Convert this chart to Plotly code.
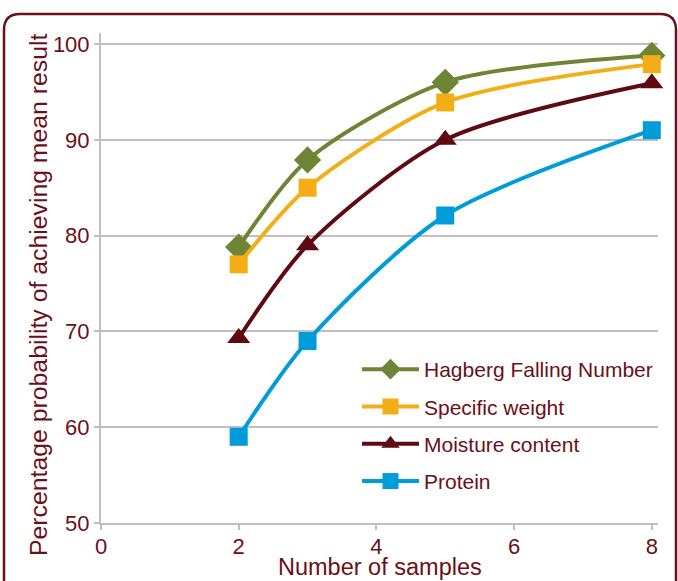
import plotly.graph_objects as go

samples = [2, 3, 5, 8]
hagberg = [78.8, 87.9, 96.0, 98.8]
specific_weight = [77.0, 85.0, 93.9, 97.9]
moisture = [69.3, 79.0, 90.0, 95.9]
protein = [59.0, 69.0, 82.1, 91.0]

series = [
    ("Hagberg Falling Number", hagberg, "#6E8535", "diamond", 21),
    ("Specific weight", specific_weight, "#F2AE14", "square", 18),
    ("Moisture content", moisture, "#5E0A10", "triangle-up", 20),
    ("Protein", protein, "#009CDA", "square", 18),
]

TXT = "#6B1018"
GRID = "#BFBFC2"
FONT = "Liberation Sans, Arial, sans-serif"

fig = go.Figure()
for i, (name, vals, color, sym, size) in enumerate(series):
    fig.add_trace(go.Scatter(
        x=samples, y=vals, name=name, mode="lines+markers",
        line=dict(color=color, width=4, shape="spline", smoothing=0.8),
        marker=dict(color=color, symbol=sym, size=size),
        legendgroup=f"g{i}", cliponaxis=False,
    ))

W, H = 678, 581
L, R, T, B = 101, 20, 33, 58
pw, ph = W - L - R, H - T - B

def px(xp):
    return (xp - L) / pw

def py(yp):
    return (H - B - yp) / ph

# rounded border
r = 16
x0, x1, y0, y1 = 4, 676, 14, 590
path = (f"M {px(x0)} {py(y1)} L {px(x0)} {py(y0 + r)} "
        f"Q {px(x0)} {py(y0)} {px(x0 + r)} {py(y0)} "
        f"L {px(x1 - r)} {py(y0)} "
        f"Q {px(x1)} {py(y0)} {px(x1)} {py(y0 + r)} "
        f"L {px(x1)} {py(y1)}")

fig.update_layout(
    width=W, height=H,
    margin=dict(l=L, r=R, t=T, b=B),
    paper_bgcolor="white", plot_bgcolor="white",
    font=dict(family=FONT, color=TXT, size=22),
    shapes=[dict(type="path", path=path, xref="paper", yref="paper",
                 line=dict(color="#6B1018", width=2.5), layer="above")],
    annotations=[
        dict(text="Percentage probability of achieving mean result",
             x=px(38), y=py(295), xref="paper", yref="paper",
             xanchor="center", yanchor="middle", textangle=-90,
             showarrow=False, font=dict(size=24.8, color=TXT, family=FONT)),
        dict(text="Number of samples",
             x=px(380), y=py(567), xref="paper", yref="paper",
             xanchor="center", yanchor="middle",
             showarrow=False, font=dict(size=23.5, color=TXT, family=FONT)),
    ],
    legend=dict(
        x=px(357), y=py(349), xanchor="left", yanchor="top",
        font=dict(size=21, color=TXT, family=FONT),
        bgcolor="rgba(0,0,0,0)", traceorder="grouped", tracegroupgap=7,
        itemwidth=57,
    ),
    xaxis=dict(
        range=[0, 8.09], tickvals=[0, 2, 4, 6, 8], showgrid=False,
        showline=True, linecolor=GRID, linewidth=2,
        ticks="outside", ticklen=5, tickwidth=2, tickcolor=GRID,
        tickfont=dict(size=22, color=TXT), automargin=False,
        ticklabelstandoff=-2, zeroline=False,
    ),
    yaxis=dict(
        range=[50, 101.15], tickvals=[50, 60, 70, 80, 90, 100],
        showgrid=True, gridcolor=GRID, gridwidth=2,
        showline=True, linecolor=GRID, linewidth=2,
        ticks="outside", ticklen=5, tickwidth=2, tickcolor=GRID,
        tickfont=dict(size=22, color=TXT), automargin=False,
        zeroline=False,
    ),
)

fig.write_html("out.html", config={"displayModeBar": False},
               post_script="document.body.style.margin='0';")
